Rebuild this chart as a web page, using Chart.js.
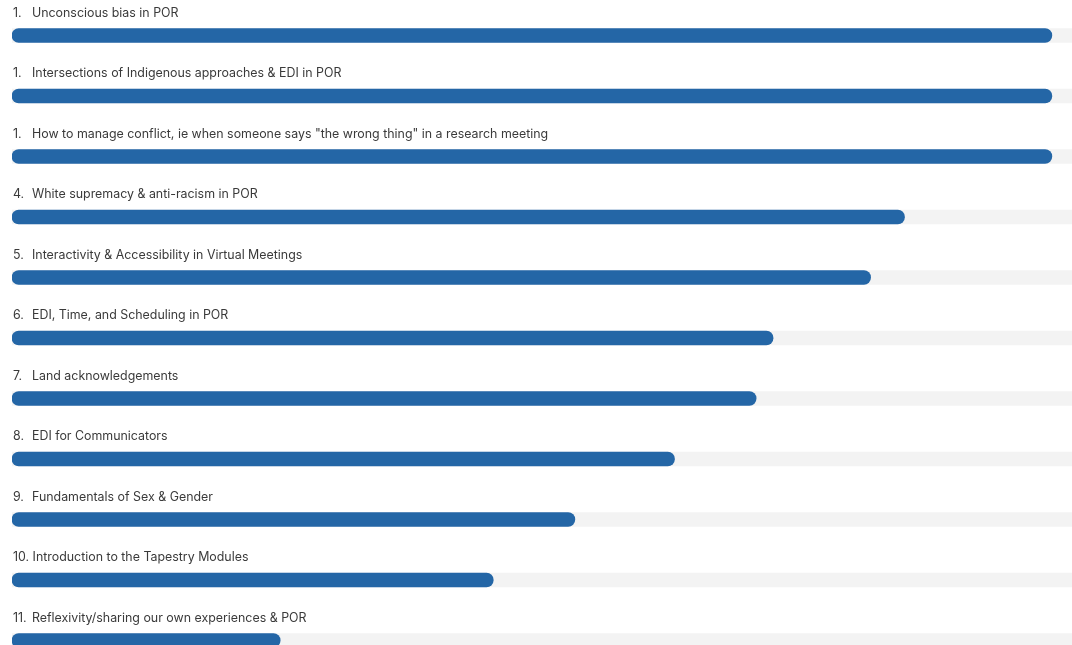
<!DOCTYPE html>
<html>
<head>
<meta charset="utf-8">
<title>Ranking</title>
<script src="https://cdn.jsdelivr.net/npm/chart.js@4/dist/chart.umd.min.js"></script>
<style>
    html, body { margin: 0; padding: 0; background: #fff; overflow: hidden; }
    #wrap { position: relative; width: 1072px; height: 680px; }
</style>
</head>
<body>
<div id="wrap"><canvas id="chart"></canvas></div>
<script>
// Ranks shown before each label
const ranks = ['1.', '1.', '1.', '4.', '5.', '6.', '7.', '8.', '9.', '10.', '11.'];

const topics = [
    'Unconscious bias in POR',
    'Intersections of Indigenous approaches & EDI in POR',
    'How to manage conflict, ie when someone says "the wrong thing" in a research meeting',
    'White supremacy & anti-racism in POR',
    'Interactivity & Accessibility in Virtual Meetings',
    'EDI, Time, and Scheduling in POR',
    'Land acknowledgements',
    'EDI for Communicators',
    'Fundamentals of Sex & Gender',
    'Introduction to the Tapestry Modules',
    'Reflexivity/sharing our own experiences & POR'
];

// Score as a share of the full track (percent)
const scores = [98.1, 98.1, 98.1, 84.2, 81.0, 71.8, 70.2, 62.5, 53.1, 45.4, 25.3];
const trackMax = 100;
const track = topics.map(() => trackMax);

// Draw "1.  Label" above each bar
const labelPlugin = {
    id: 'rowLabels',
    afterDatasetsDraw(chart) {
        const ctx = chart.ctx;
        const yScale = chart.scales.y;
        ctx.save();
        ctx.font = '12.4px Inter, "Noto Sans", sans-serif';
        ctx.fillStyle = '#3a3a3a';
        ctx.textBaseline = 'middle';
        ctx.textAlign = 'left';
        topics.forEach((topic, i) => {
            const y = yScale.getPixelForValue(i) - 22.5;
            const numW = ctx.measureText(ranks[i] + ' ').width;
            const textX = Math.max(32, 13 + numW);
            ctx.fillText(ranks[i], 13, y);
            ctx.fillText(topic, textX, y);
        });
        ctx.restore();
    }
};

new Chart(document.getElementById('chart'), {
    type: 'bar',
    data: {
        labels: topics,
        datasets: [{
            label: 'Score',
            data: scores,
            backgroundColor: '#2466a6',
            borderRadius: 7,
            borderSkipped: false,
            barThickness: 14,
            grouped: false,
            order: 0
        }, {
            label: 'Track',
            data: track,
            backgroundColor: '#f3f3f3',
            borderRadius: 0,
            barThickness: 14,
            grouped: false,
            order: 1
        }]
    },
    options: {
        indexAxis: 'y',
        responsive: true,
        maintainAspectRatio: false,
        animation: false,
        layout: {
            padding: { left: 12, right: 0, top: 5.25, bottom: 9.25 }
        },
        scales: {
            x: {
                display: false,
                min: 0,
                max: trackMax
            },
            y: {
                display: false
            }
        },
        plugins: {
            legend: { display: false },
            tooltip: { enabled: false }
        }
    },
    plugins: [labelPlugin]
});
</script>
</body>
</html>
